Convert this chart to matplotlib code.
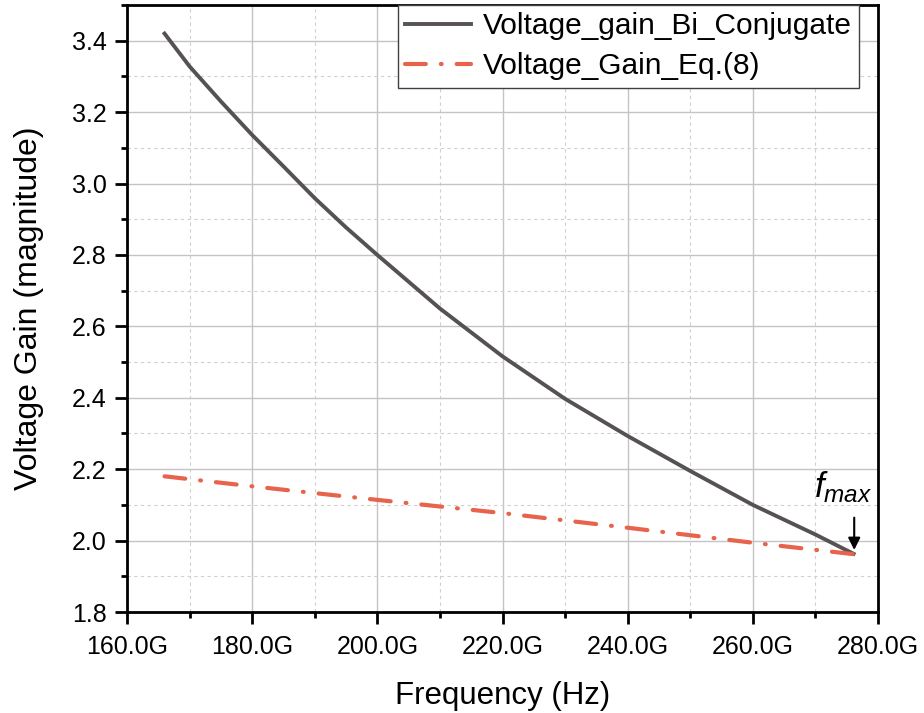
import numpy as np
import matplotlib.pyplot as plt
from matplotlib.ticker import MultipleLocator, FuncFormatter

plt.rcParams['font.family'] = ['Liberation Sans', 'DejaVu Sans']
plt.rcParams['mathtext.fontset'] = 'custom'
plt.rcParams['mathtext.it'] = 'Liberation Sans:italic'
plt.rcParams['mathtext.rm'] = 'Liberation Sans'

# frequency in GHz
freq_bi = [166.0, 170, 175, 180, 185, 190, 195, 200, 210, 220, 230, 240, 250, 260, 270, 276.1]
gain_bi = [3.42, 3.328, 3.23, 3.136, 3.048, 2.959, 2.877, 2.80, 2.650, 2.516, 2.397, 2.293, 2.195, 2.10, 2.017, 1.963]

freq_eq = [166.0, 180, 200, 220, 240, 260, 276.1]
gain_eq = [2.18, 2.152, 2.114, 2.077, 2.036, 1.994, 1.962]

fig = plt.figure(figsize=(9.24, 7.13), dpi=100)
ax = fig.add_axes([127/924, 1-612/713, (878-127)/924, (612-5)/713])

ax.plot(freq_bi, gain_bi, color='#565253', lw=2.8, label='Voltage_gain_Bi_Conjugate', zorder=3)
ax.plot(freq_eq, gain_eq, color='#e8634c', lw=3.0, ls=(0, (5, 3.6, 0.2, 3.6)), dash_capstyle='round',
        label='Voltage_Gain_Eq.(8)', zorder=3)

ax.set_xlim(160, 280)
ax.set_ylim(1.8, 3.5)
ax.xaxis.set_major_locator(MultipleLocator(20))
ax.xaxis.set_minor_locator(MultipleLocator(10))
ax.yaxis.set_major_locator(MultipleLocator(0.2))
ax.yaxis.set_minor_locator(MultipleLocator(0.1))
ax.xaxis.set_major_formatter(FuncFormatter(lambda v, p: '%.1fG' % v))
ax.yaxis.set_major_formatter(FuncFormatter(lambda v, p: '%.1f' % v))

ax.grid(which='major', color='#c4c4c4', lw=1.0)
ax.grid(which='minor', color='#d0d0d0', lw=0.8, ls=(0, (3, 3)))
ax.set_axisbelow(True)

for s in ax.spines.values():
    s.set_linewidth(2.0)
ax.tick_params(which='major', direction='out', length=8.5, width=2, labelsize=18, colors='black')
ax.tick_params(which='minor', direction='out', length=4, width=2)
ax.tick_params(axis='x', which='major', pad=8)
ax.tick_params(axis='y', which='major', pad=6)

ax.set_xlabel('Frequency (Hz)', fontsize=22.5, labelpad=16)
ax.set_ylabel('Voltage Gain (magnitude)', fontsize=23, labelpad=20)

leg = ax.legend(loc='upper right', bbox_to_anchor=(0.975, 1.0), fontsize=21.5, frameon=True,
                fancybox=False, edgecolor='#404040', handlelength=2.2, handletextpad=0.4,
                borderpad=0.25, labelspacing=0.4, borderaxespad=0, framealpha=1)
leg.get_frame().set_linewidth(1.0)

ax.annotate('', xy=(276.2, 1.966), xytext=(276.2, 2.072),
            arrowprops=dict(arrowstyle='-|>', color='black', lw=1.5, mutation_scale=18))
ax.text(274.4, 2.10, r'$f_{max}$', fontsize=25, ha='center', va='bottom')

fig.savefig('out.png', dpi=100)
